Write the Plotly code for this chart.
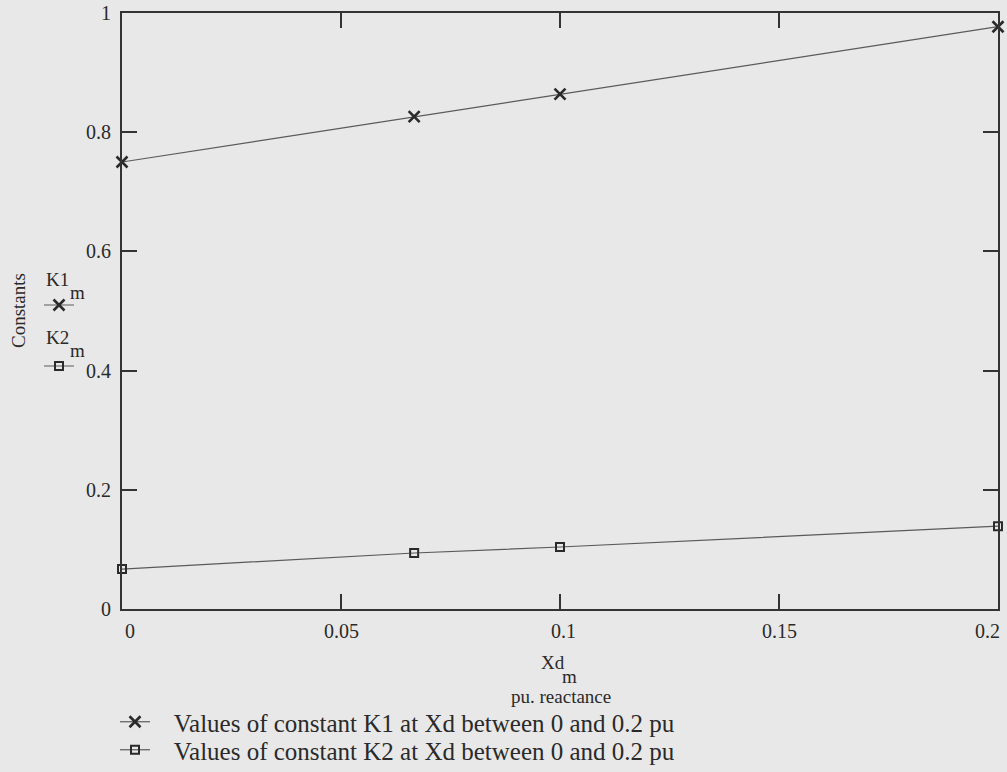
import plotly.graph_objects as go

# Reactance values (pu) and the two constants evaluated at each
xd = [0, 0.0667, 0.1, 0.2]
k1 = [0.75, 0.826, 0.864, 0.977]
k2 = [0.067, 0.094, 0.104, 0.139]

x_ticks = [0, 0.05, 0.1, 0.15, 0.2]
x_tick_text = ["0", "0.05", "0.1", "0.15", "0.2"]
x_tick_nudge = [8, 0, 3, 0, -11]
y_ticks = [0, 0.2, 0.4, 0.6, 0.8, 1]
y_tick_text = ["0", "0.2", "0.4", "0.6", "0.8", "1"]

k1_label = "Values of constant K1 at Xd between 0 and 0.2 pu"
k2_label = "Values of constant K2 at Xd between 0 and 0.2 pu"

FONT = "Liberation Serif"
INK = "#2a2a2a"
LINE = "#5a5a5a"
BG = "#e8e8e8"
PAD = "\u00a0\u00a0\u00a0"

W, H = 1007, 772
L, R, T, B = 122, 9, 13, 163
PW, PH = W - L - R, H - T - B


def px(x):
    return (x - L) / PW


def py(y):
    return (H - B - y) / PH


k1_style = dict(
    mode="lines+markers",
    line=dict(color=LINE, width=1.2),
    marker=dict(symbol="x-thin-open", size=11, color=INK, line=dict(width=2.6, color=INK)),
)
k2_style = dict(
    mode="lines+markers",
    line=dict(color=LINE, width=1.2),
    marker=dict(symbol="square-open", size=8, color=INK, line=dict(width=2, color=INK)),
)

fig = go.Figure()
fig.add_trace(go.Scatter(x=xd, y=k1, name=PAD + k1_label, legend="legend",
                         cliponaxis=False, **k1_style))
fig.add_trace(go.Scatter(x=xd, y=k2, name=PAD + k2_label, legend="legend4",
                         cliponaxis=False, **k2_style))

# small keys beside the y axis
fig.add_trace(go.Scatter(x=[None], y=[None], name="", legend="legend2", **k1_style))
fig.add_trace(go.Scatter(x=[None], y=[None], name="", legend="legend3", **k2_style))

axis_common = dict(
    showline=True,
    linewidth=2,
    linecolor="#333333",
    mirror="allticks",
    ticks="inside",
    ticklen=15,
    tickwidth=2,
    tickcolor="#333333",
    showgrid=False,
    zeroline=False,
    tickfont=dict(family=FONT, size=20, color=INK),
)

fig.update_xaxes(range=[0, 0.2], tickvals=x_ticks, showticklabels=False, **axis_common)
fig.update_yaxes(range=[0, 1], tickvals=y_ticks, ticktext=y_tick_text,
                 ticklabelstandoff=5, **axis_common)

annotations = [
    dict(x=px(18), y=py(311), text="Constants", textangle=-90, font=dict(size=19)),
    dict(x=px(57), y=py(279), text="K1", font=dict(size=19)),
    dict(x=px(77), y=py(292), text="m", font=dict(size=19)),
    dict(x=px(57), y=py(337), text="K2", font=dict(size=19)),
    dict(x=px(77), y=py(350), text="m", font=dict(size=19)),
    dict(x=px(553), y=py(662), text="Xd", font=dict(size=19)),
    dict(x=px(569), y=py(676), text="m", font=dict(size=19)),
    dict(x=px(561), y=py(696), text="pu. reactance", font=dict(size=19)),
]
for a in annotations:
    a.update(xref="paper", yref="paper")

# x tick labels, end labels pulled inward
for v, t, dx in zip(x_ticks, x_tick_text, x_tick_nudge):
    annotations.append(dict(x=v, xref="x", y=py(631), yref="paper", text=t,
                            xshift=dx, font=dict(size=20)))

for a in annotations:
    a.update(showarrow=False, xanchor="center", yanchor="middle")
    a["font"].update(family=FONT, color=INK)

row_legend = dict(xanchor="left", yanchor="middle", bgcolor="rgba(0,0,0,0)",
                  font=dict(family=FONT, size=25, color=INK), itemclick=False)
key_legend = dict(xanchor="left", yanchor="middle", bgcolor="rgba(0,0,0,0)",
                  font=dict(family=FONT, size=12), itemwidth=30, itemclick=False)

fig.update_layout(
    width=W,
    height=H,
    margin=dict(l=L, r=R, t=T, b=B, autoexpand=False),
    paper_bgcolor=BG,
    plot_bgcolor=BG,
    font=dict(family=FONT, color=INK),
    annotations=annotations,
    legend=dict(x=px(115), y=py(722), **row_legend),
    legend4=dict(x=px(115), y=py(750), **row_legend),
    legend2=dict(x=px(39), y=py(305), **key_legend),
    legend3=dict(x=px(39), y=py(366), **key_legend),
    showlegend=True,
)

fig.write_html("out.html")
